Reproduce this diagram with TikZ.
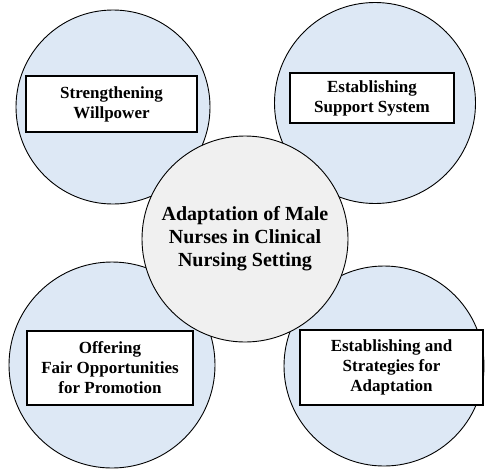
\documentclass[tikz,border=0pt]{standalone}
\usepackage{fontspec}
\setmainfont{Liberation Serif}
\definecolor{satfill}{HTML}{DDE8F5}
\definecolor{hubfill}{HTML}{F0F0F0}
\begin{document}
\begin{tikzpicture}[x=1pt,y=-1pt,
  sat/.style={circle,draw=black,line width=0.9pt,fill=satfill,inner sep=0pt},
  hub/.style={circle,draw=black,line width=0.9pt,fill=hubfill,inner sep=0pt,
    font=\fontsize{20}{23}\selectfont\bfseries,align=center},
  lbl/.style={draw=black,line width=1.4pt,fill=white,inner sep=0pt,
    font=\fontsize{17}{20}\selectfont\bfseries,align=center}]
\useasboundingbox (0,0) rectangle (486,469);
\node[sat,minimum size=194pt] (c1) at (113,107) {};
\node[sat,minimum size=201pt] (c2) at (375,103) {};
\node[sat,minimum size=206pt] (c3) at (112,365) {};
\node[sat,minimum size=200pt] (c4) at (384,366) {};
\node[lbl,minimum width=171pt,minimum height=56pt] (b1) at (111.5,104) {Strengthening\\Willpower};
\node[lbl,minimum width=164pt,minimum height=50pt] (b2) at (372,98) {Establishing\\Support System};
\node[lbl,minimum width=166pt,minimum height=74pt] (b3) at (110,368) {Offering\\Fair Opportunities\\for Promotion};
\node[lbl,minimum width=183pt,minimum height=75pt] (b4) at (391.5,367.5) {Establishing and\\Strategies for\\Adaptation};
\node[hub,minimum size=206pt] (hub) at (245,239) {Adaptation of Male\\Nurses in Clinical\\Nursing Setting};
\end{tikzpicture}
\end{document}
